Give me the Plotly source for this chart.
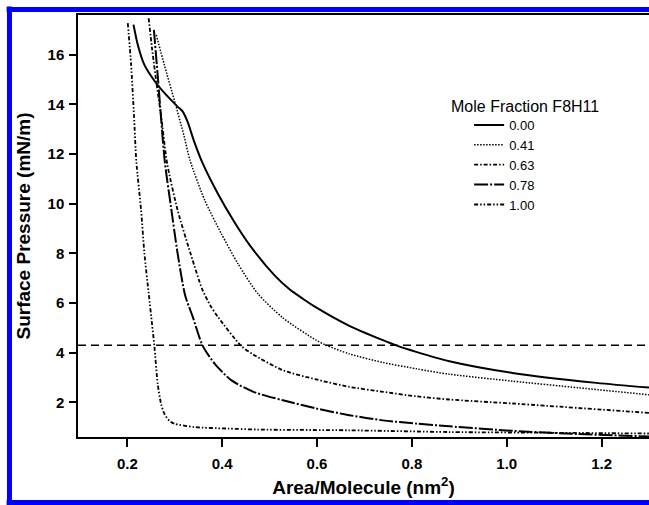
import plotly.graph_objects as go

# isotherm readings: area per molecule (nm^2) vs surface pressure (mN/m)
x_000 = [0.213, 0.222, 0.236, 0.261, 0.282, 0.306, 0.317, 0.327, 0.341, 0.359, 0.391, 0.426,
         0.458, 0.51, 0.542, 0.570, 0.598, 0.668, 0.739, 0.767, 0.809, 0.879, 1.012, 1.189, 1.30]
y_000 = [17.21, 16.40, 15.59, 14.85, 14.38, 13.91, 13.71, 13.30, 12.50, 11.62, 10.40, 9.25,
         8.33, 7.12, 6.55, 6.17, 5.82, 5.08, 4.50, 4.29, 4.03, 3.65, 3.18, 2.78, 2.59]

x_041 = [0.261, 0.278, 0.300, 0.320, 0.332, 0.363, 0.398, 0.433, 0.475, 0.528, 0.598, 0.619,
         0.668, 0.739, 0.809, 0.879, 1.012, 1.153, 1.30]
y_041 = [16.80, 15.59, 14.11, 12.70, 11.76, 10.15, 8.80, 7.59, 6.38, 5.40, 4.50, 4.30,
         3.95, 3.60, 3.35, 3.13, 2.85, 2.58, 2.30]

x_063 = [0.245, 0.252, 0.261, 0.271, 0.284, 0.306, 0.334, 0.358, 0.375, 0.391, 0.440, 0.465,
         0.528, 0.598, 0.668, 0.739, 0.809, 0.879, 1.012, 1.30]
y_063 = [17.47, 16.27, 14.92, 13.57, 11.62, 9.74, 7.95, 6.55, 5.90, 5.44, 4.27, 3.93,
         3.29, 2.92, 2.62, 2.42, 2.24, 2.11, 1.95, 1.57]

x_078 = [0.256, 0.264, 0.279, 0.292, 0.306, 0.322, 0.338, 0.359, 0.384, 0.419, 0.466, 0.528,
         0.598, 0.668, 0.739, 0.809, 0.879, 1.012, 1.15, 1.30]
y_078 = [17.0, 15.19, 11.70, 9.88, 8.00, 6.30, 5.44, 4.27, 3.56, 2.89, 2.42, 2.08,
         1.75, 1.48, 1.27, 1.14, 1.03, 0.85, 0.72, 0.62]

x_100 = [0.201, 0.208, 0.214, 0.219, 0.229, 0.236, 0.245, 0.252, 0.257, 0.264, 0.271, 0.278,
         0.289, 0.299, 0.341, 0.412, 0.475, 0.668, 0.879, 1.10, 1.30]
y_100 = [17.27, 15.59, 13.57, 11.70, 9.74, 8.00, 6.40, 5.17, 4.27, 2.75, 1.95, 1.54,
         1.25, 1.14, 1.00, 0.94, 0.90, 0.87, 0.80, 0.77, 0.74]

fractions = ["0.00", "0.41", "0.63", "0.78", "1.00"]
ref_pressure = 4.3

series = [
    (x_000, y_000, "solid", 2),
    (x_041, y_041, "1.5px,1.5px", 1.5),
    (x_063, y_063, "4px,2px,1.5px,2px", 1.8),
    (x_078, y_078, "14px,2px,2px,2px", 2),
    (x_100, y_100, "4px,2px,1.5px,2px,1.5px,2px", 1.8),
]

fig = go.Figure()
for name, (xs, ys, dash, w) in zip(fractions, series):
    fig.add_trace(go.Scatter(
        x=xs, y=ys, name=name, mode="lines",
        line=dict(color="black", width=w, dash=dash, shape="spline", smoothing=0.7),
    ))

fig.add_hline(y=ref_pressure, line=dict(color="black", width=1.5, dash="8px,5px"))

# blue frame: top, left and bottom edges (right edge lies outside the picture)
frame = dict(color="#0000ff", width=5)
fig.add_shape(type="line", xref="paper", yref="paper", x0=-0.125, x1=1.02, y0=1.013, y1=1.013,
              line=frame, layer="above")
fig.add_shape(type="line", xref="paper", yref="paper", x0=-0.12, x1=-0.12, y0=1.02, y1=-0.16,
              line=frame, layer="above")
fig.add_shape(type="line", xref="paper", yref="paper", x0=-0.125, x1=1.02, y0=-0.155, y1=-0.155,
              line=frame, layer="above")

fig.add_annotation(text="Mole Fraction F8H11", xref="paper", yref="paper",
                   x=0.650, y=0.782, xanchor="left", yanchor="middle",
                   showarrow=False, font=dict(size=16, color="black"))

axis_font = dict(family="Liberation Sans, Arial", size=15, color="black", weight="bold")

fig.update_layout(
    width=649, height=505,
    margin=dict(l=78, r=0, t=15, b=68),
    paper_bgcolor="white", plot_bgcolor="white",
    font=dict(family="Liberation Sans, Arial", color="black"),
    showlegend=True,
    legend=dict(x=0.685, y=0.775, xanchor="left", yanchor="top",
                font=dict(size=13), bgcolor="rgba(0,0,0,0)", tracegroupgap=0),
    xaxis=dict(
        range=[0.096, 1.30], tickvals=[0.2, 0.4, 0.6, 0.8, 1.0, 1.2], tickformat=".1f",
        showgrid=False, zeroline=False, showline=True, linecolor="black", linewidth=1.5,
        mirror=True, ticks="outside", ticklen=8, tickwidth=1.5, tickcolor="black",
        tickfont=axis_font, ticklabelstandoff=4,
        title=dict(text="Area/Molecule (nm<sup>2</sup>)", font=dict(size=19, weight="bold"),
                   standoff=10),
    ),
    yaxis=dict(
        range=[0.6, 17.6], tickvals=[2, 4, 6, 8, 10, 12, 14, 16],
        showgrid=False, zeroline=False, showline=True, linecolor="black", linewidth=1.5,
        ticks="outside", ticklen=7, tickwidth=1.5, tickcolor="black",
        tickfont=axis_font, ticklabelstandoff=2,
        title=dict(text="Surface Pressure (mN/m)", font=dict(size=19, weight="bold"),
                   standoff=12),
    ),
)

# drop the default body margin so the figure fills the window exactly
fig.write_html("out.html", config={"displayModeBar": False},
               post_script="document.body.style.margin = '0px';")
